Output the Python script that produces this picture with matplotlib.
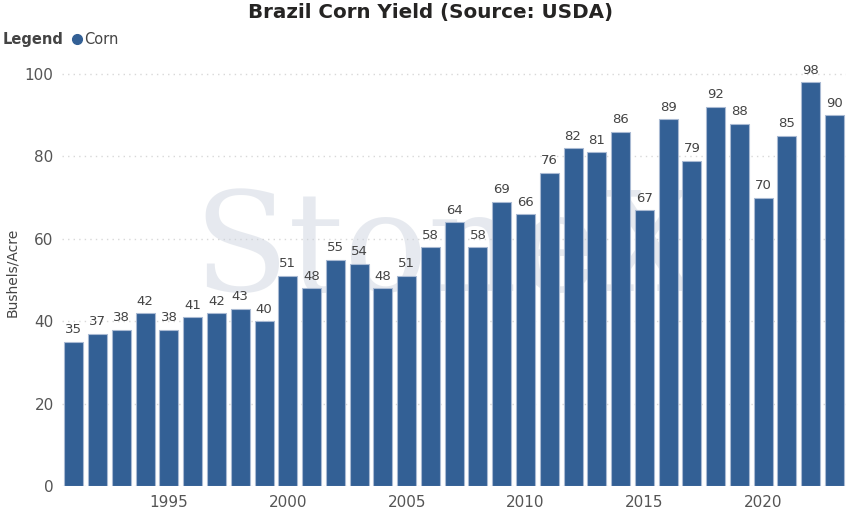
import matplotlib
matplotlib.use("Agg")
import matplotlib.pyplot as plt
from matplotlib.lines import Line2D

# Brazil corn yield, bushels per acre (USDA)
years = list(range(1991, 2024))
yields = [35, 37, 38, 42, 38, 41, 42, 43, 40, 51, 48, 55, 54, 48, 51, 58,
          64, 58, 69, 66, 76, 82, 81, 86, 67, 89, 79, 92, 88, 70, 85, 98, 90]
x_ticks = [1995, 2000, 2005, 2010, 2015, 2020]
y_ticks = [0, 20, 40, 60, 80, 100]

BAR = "#336095"
TEXT = "#555555"

plt.rcParams["font.family"] = ["DejaVu Sans"]

fig = plt.figure(figsize=(8.61, 5.14), dpi=100)
ax = fig.add_axes([0.072, 0.054, 0.911, 0.826])

bars = ax.bar(years, yields, width=0.8, color=BAR, edgecolor="#a9bad3",
              linewidth=0.8, zorder=3)
for b, v in zip(bars, yields):
    ax.annotate(f"{v:.0f}", (b.get_x() + b.get_width() / 2, b.get_height()),
                xytext=(0, 4), textcoords="offset points", ha="center",
                va="bottom", fontsize=9.5, color="#444444", zorder=4)

# faint watermark behind the bars
ax.text(0.49, 0.55, "StoneX", transform=ax.transAxes, fontsize=100,
        family="DejaVu Serif", color="#c9d0dc", alpha=0.45, ha="center",
        va="center", zorder=1)

ax.set_xlim(1990.5, 2023.5)
ax.set_ylim(0, 103)
ax.set_xticks(x_ticks)
ax.set_yticks(y_ticks)
ax.tick_params(length=0, labelsize=11, colors=TEXT, pad=6)
ax.yaxis.grid(True, color="#d8d8d8", linestyle=(0, (1, 3)), linewidth=1)
ax.set_axisbelow(True)
for s in ax.spines.values():
    s.set_visible(False)

fig.text(0.014, 0.47, "Bushels/Acre", rotation=90, fontsize=10,
         color="#444444", ha="center", va="center")

fig.suptitle("Brazil Corn Yield (Source: USDA)", x=0.5, y=0.995,
             fontsize=14.3, fontweight="bold", color="#252423", va="top")

handles = [Line2D([], [], marker="o", linestyle="none", color=BAR,
                  markersize=7)]
leg = fig.legend(handles, ["Corn"], loc="center left",
                 bbox_to_anchor=(0.082, 0.923), frameon=False,
                 handletextpad=0.0, handlelength=0.9, fontsize=10.5,
                 labelcolor="#444444", borderaxespad=0, borderpad=0)
fig.text(0.003, 0.923, "Legend", fontsize=10.5, fontweight="bold",
         color="#444444", va="center")

fig.savefig("out.png", dpi=100)
